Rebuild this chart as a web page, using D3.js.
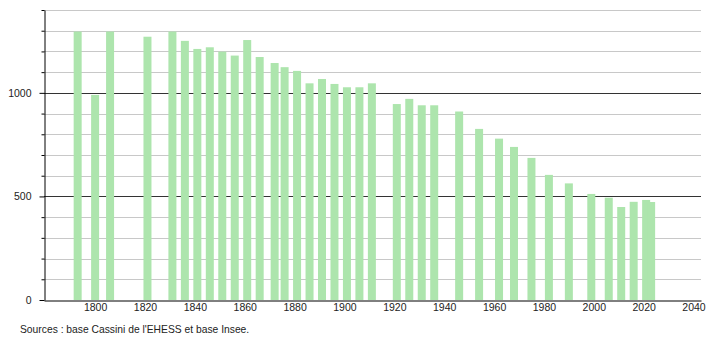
<!DOCTYPE html>
<html>
<head>
<meta charset="utf-8">
<script src="https://cdn.jsdelivr.net/npm/d3@7"></script>
<style>
  body { margin: 0; background: #fff; }
  svg { display: block; font-family: "Liberation Sans", Arial, sans-serif; }
</style>
</head>
<body>
<div id="chart"></div>
<script>
// census years and population
const years = [1793, 1800, 1806, 1821, 1831, 1836, 1841, 1846, 1851, 1856,
  1861, 1866, 1872, 1876, 1881, 1886, 1891, 1896, 1901, 1906, 1911,
  1921, 1926, 1931, 1936, 1946, 1954, 1962, 1968, 1975, 1982, 1990,
  1999, 2006, 2011, 2016, 2021, 2023];
const population = [1296, 990, 1296, 1271, 1296, 1251, 1212, 1220, 1199, 1180,
  1255, 1173, 1144, 1124, 1106, 1046, 1067, 1043, 1027, 1027, 1046,
  946, 971, 940, 940, 910, 826, 779, 739, 686, 604, 563,
  512, 494, 449, 474, 483, 473];
const xTicks = [1800, 1820, 1840, 1860, 1880, 1900, 1920, 1940, 1960, 1980, 2000, 2020, 2040];
const yTicks = [0, 500, 1000];
const source = "Sources : base Cassini de l'EHESS et base Insee.";

const width = 710, height = 340;
const svg = d3.select('#chart').append('svg')
  .attr('width', width)
  .attr('height', height);

const x = d3.scaleLinear().domain([1779.5, 2043]).range([44, 701]);
const y = d3.scaleLinear().domain([0, 1400]).range([300, 10]);

// grid lines every 100, darker at 500 and 1000
const gridVals = d3.range(100, 1401, 100);
svg.append('g').selectAll('line')
  .data(gridVals)
  .enter().append('line')
  .attr('x1', 44).attr('x2', 701)
  .attr('y1', d => Math.round(y(d)) + 0.5)
  .attr('y2', d => Math.round(y(d)) + 0.5)
  .attr('stroke', d => d % 500 === 0 ? '#333' : '#c8c8c8')
  .attr('stroke-width', 1);

// bars
svg.append('g').selectAll('rect')
  .data(years)
  .enter().append('rect')
  .attr('x', d => x(d) - 4)
  .attr('width', 8)
  .attr('y', (d, i) => y(population[i]))
  .attr('height', (d, i) => y(0) - y(population[i]))
  .attr('fill', '#ade5ad');

// y axis
const yAxis = d3.axisLeft(y)
  .tickValues(d3.range(0, 1401, 100))
  .tickSize(0)
  .tickFormat(d => yTicks.includes(d) ? d : '');
const gy = svg.append('g')
  .attr('transform', 'translate(44.5,0)')
  .call(yAxis);
gy.select('.domain').attr('stroke', '#000');
gy.selectAll('.tick').append('line')
  .attr('x1', d => yTicks.includes(d) ? -5 : -3)
  .attr('x2', 0)
  .attr('stroke', '#000');
gy.selectAll('.tick text')
  .attr('x', -13)
  .attr('font-size', 10.5)
  .attr('fill', '#222')
  .attr('font-family', null);

// x axis
const xAxis = d3.axisBottom(x)
  .tickValues(xTicks)
  .tickSize(0)
  .tickFormat(d3.format('d'));
const gx = svg.append('g')
  .attr('transform', 'translate(0,300.5)')
  .call(xAxis);
gx.select('.domain').attr('stroke', '#000');
gx.selectAll('.tick text')
  .attr('y', 3)
  .attr('font-size', 10.5)
  .attr('fill', '#222')
  .attr('font-family', null);

svg.append('text')
  .attr('x', 20)
  .attr('y', 333)
  .attr('font-size', 10.3)
  .attr('fill', '#222')
  .text(source);
</script>
</body>
</html>
